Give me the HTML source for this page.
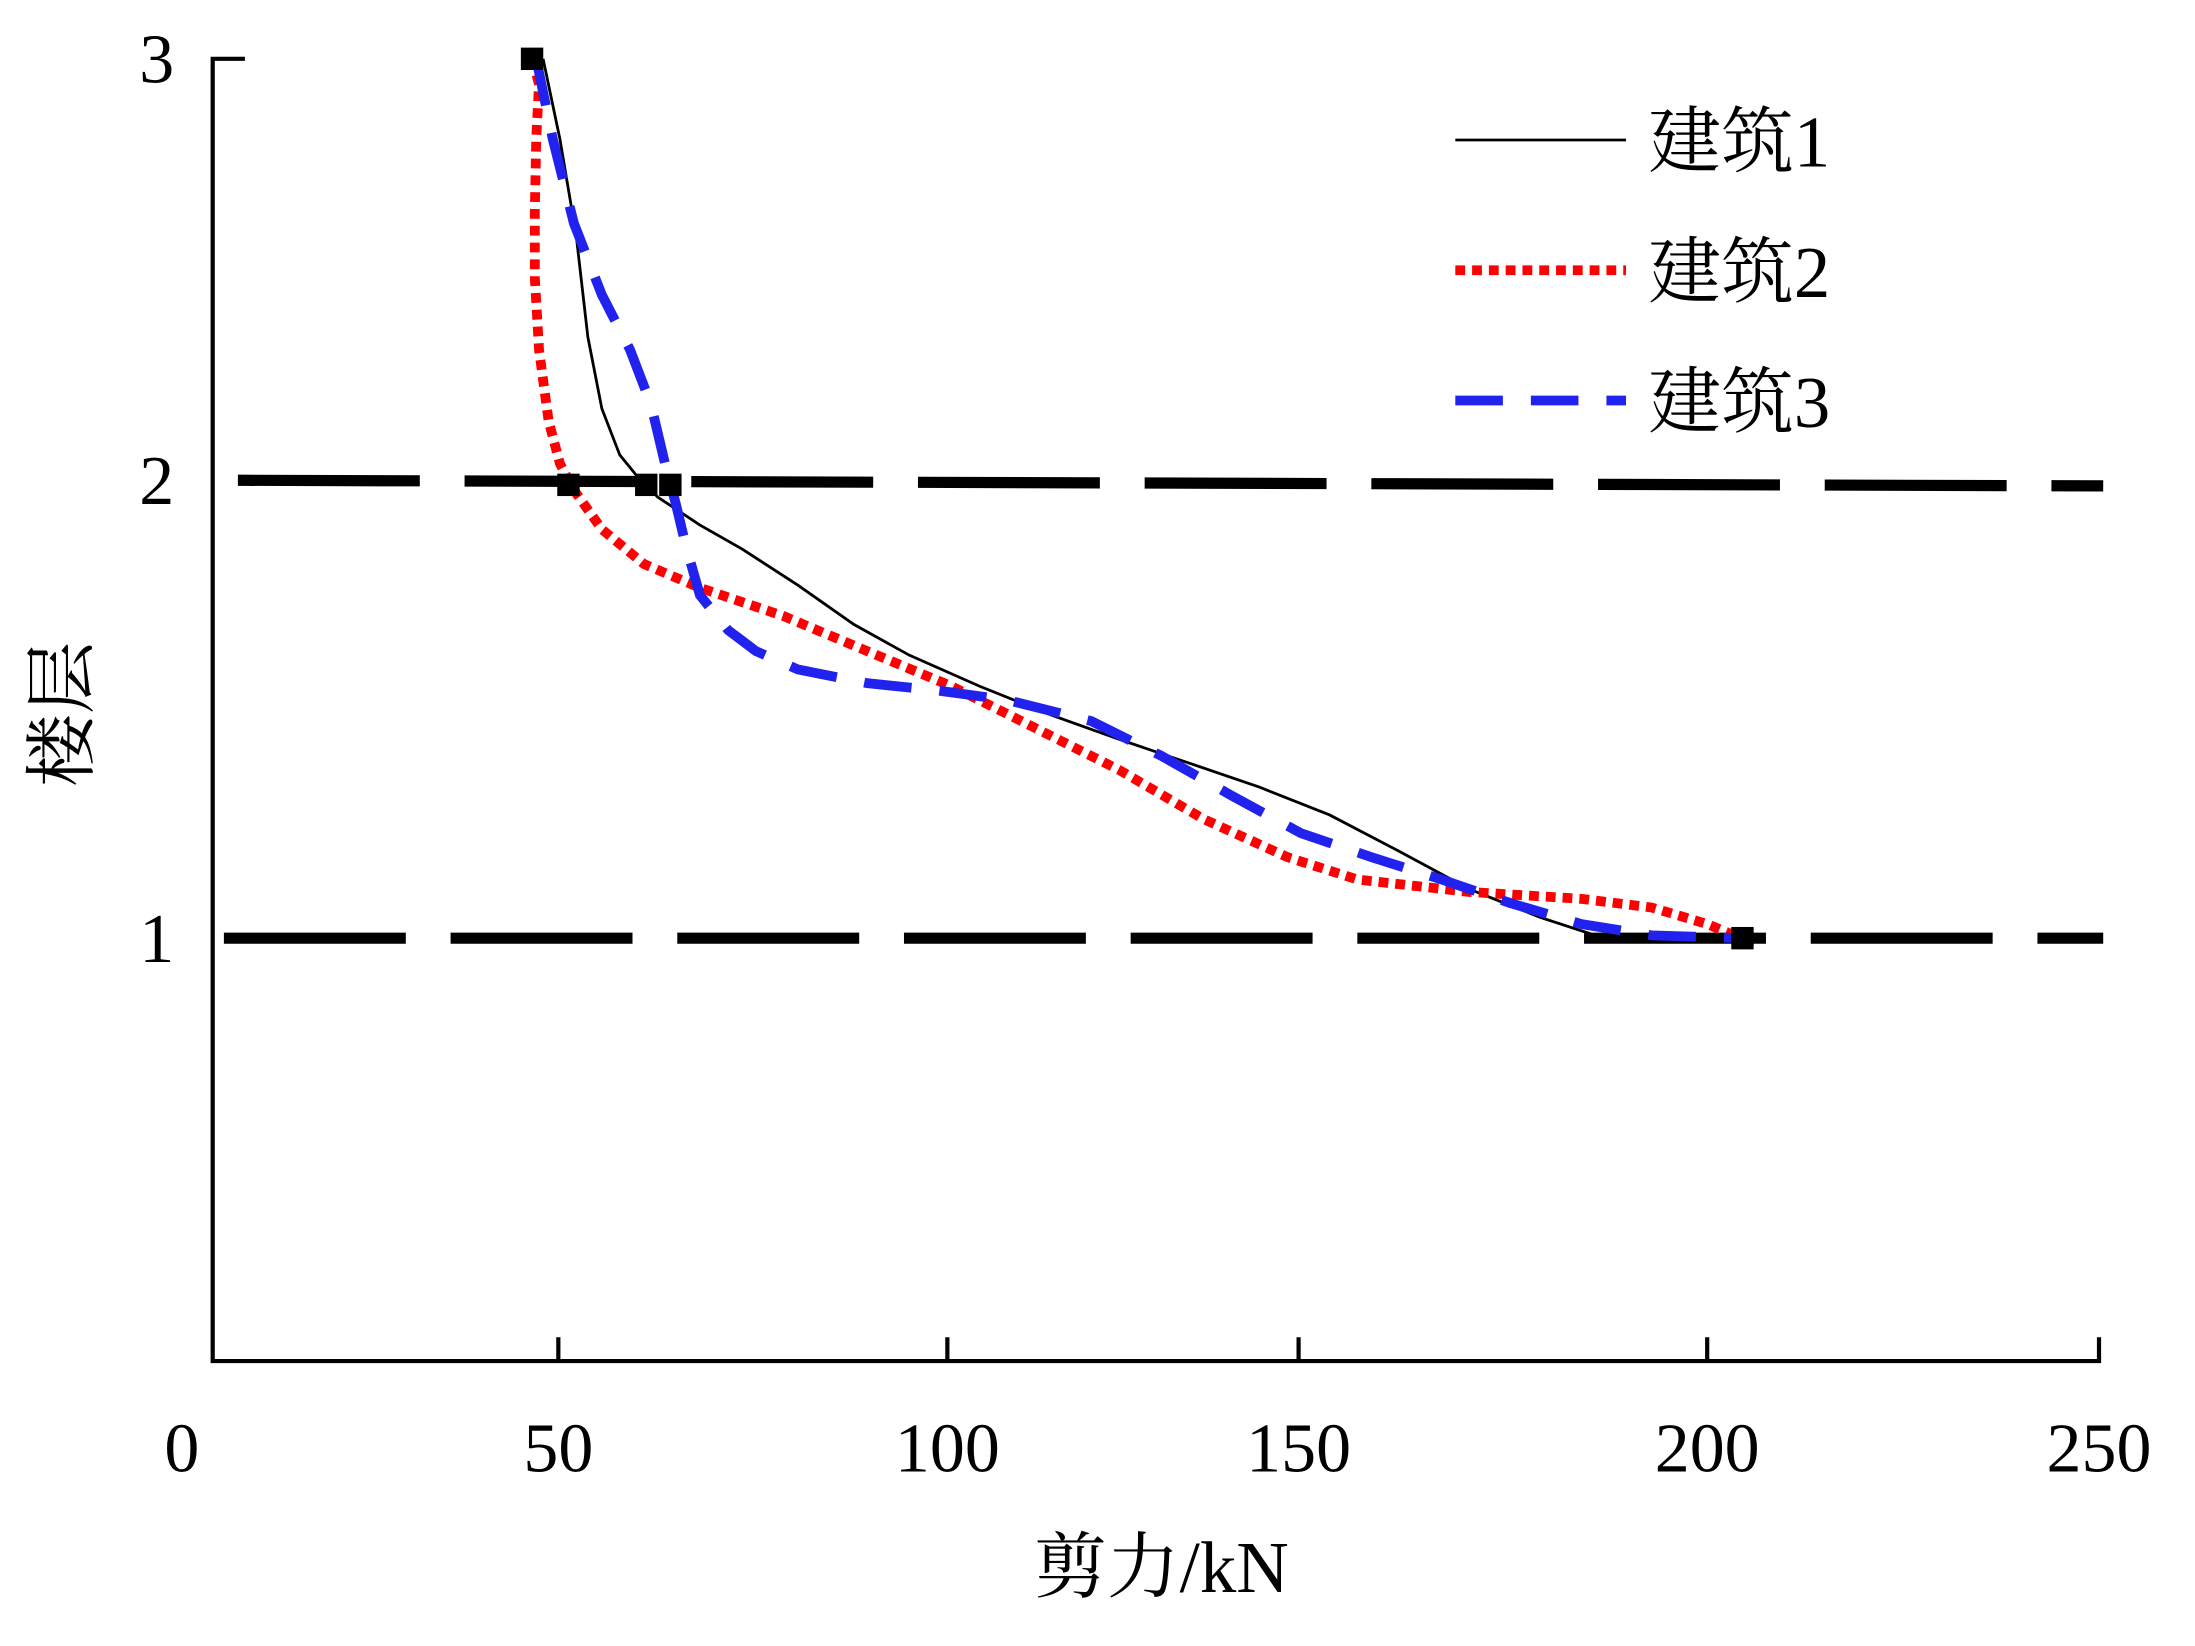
<!DOCTYPE html>
<html><head><meta charset="utf-8"><style>
html,body{margin:0;padding:0;background:#fff;}
svg{display:block;}
text{font-family:"Liberation Serif","Noto Serif CJK SC","Noto Sans CJK SC",serif;fill:#000;}
</style></head><body>
<svg id="chart" width="2195" height="1646" viewBox="0 0 1568.6 1175.5" preserveAspectRatio="none" xmlns="http://www.w3.org/2000/svg">
<g id="g"></g>
</svg>
<script>
const xTicks=[0,50,100,150,200,250];
const yTicks=[1,2,3];
const s1x=[47.8,50.2,52.3,53.8,55.6,57.9,60.1,62.8,68.2,73.6,80.8,88.0,95.1,104.6,114.5,124.5,134.5,144.4,153.8,162.3,170.9,179.5,186.3,204.3];
const s1y=[3,2.81,2.58,2.34,2.17,2.06,2.01,1.963,1.902,1.850,1.771,1.685,1.618,1.550,1.489,1.434,1.382,1.330,1.269,1.190,1.107,1.046,1.006,1];
const s2x=[46.2,47.2,46.8,46.6,46.6,47.2,48.6,50.2,52.0,55.6,61.0,68.2,79.0,89.7,100.6,112.5,124.5,136.5,148.4,157.2,170.9,184.6,193.2,200,204.3];
const s2y=[3,2.94,2.81,2.64,2.48,2.31,2.14,2.04,1.979,1.893,1.817,1.765,1.703,1.627,1.550,1.459,1.367,1.260,1.177,1.128,1.101,1.086,1.067,1.031,1];
const s3x=[46.8,49.2,52.0,55.6,59.2,61.9,63.7,65.1,66.4,68.2,71.8,75.4,80.8,89.7,98.7,108.6,120.5,130.5,140.4,150.3,158.9,167.5,176.0,184.6,193.2,204.3];
const s3y=[3,2.81,2.61,2.44,2.31,2.18,2.04,1.948,1.856,1.749,1.673,1.627,1.587,1.557,1.541,1.520,1.474,1.398,1.312,1.229,1.177,1.128,1.076,1.031,1.006,1];
const mx=[46.2,51.3,61.3,64.4,204.5];
const my=[3,1.99,1.99,1.99,1];
const levels=[2,1];
const xPx=[152,399,677,928,1220,1500];
const yVal=[0,1,2,3], yPx=[972,670,343,42];
function pw(v,vals,px){let i=0;while(i<vals.length-2&&v>vals[i+1])i++;return px[i]+(v-vals[i])*(px[i+1]-px[i])/(vals[i+1]-vals[i]);}
function X(v){return pw(v,xTicks,xPx);}
function Y(v){return pw(v,yVal,yPx);}
const NS='http://www.w3.org/2000/svg', g=document.getElementById('g');
function el(t,a,txt){const e=document.createElementNS(NS,t);for(const k in a)e.setAttribute(k,a[k]);if(txt!==undefined)e.textContent=txt;g.appendChild(e);return e;}
let e;
levels.forEach((lv,i)=>{
 e=el('line',{x1:i==0?170:160,x2:1503,y1:Y(lv),y2:Y(lv)+(i==0?4:0),stroke:'#000','stroke-width':8,'stroke-dasharray':'130 32'});
 
 
});
e=el('path',{d:'M175 42 H152 V972 H1500 V955',fill:'none',stroke:'#000','stroke-width':3});


xTicks.forEach(t=>{
 if(t>0&&t<250){e=el('line',{x1:X(t),x2:X(t),y1:972,y2:955,stroke:'#000','stroke-width':3});
 
 }
 e=el('text',{x:X(t)-(t==0?22:0),y:1051,'font-size':50,'text-anchor':'middle'},String(t));
 
 
});
yTicks.forEach(t=>{
 e=el('text',{x:112,y:Y(t)+17,'font-size':50,'text-anchor':'middle'},String(t));
 
 
});
e=el('text',{x:830,y:1137,'font-size':52,'text-anchor':'middle'},'剪力/kN');


e=el('text',{x:0,y:0,'font-size':52,'text-anchor':'middle',transform:'translate(62,510) rotate(-90)'},'楼层');


function line(xs,ys,attrs,name){
 const d=xs.map((v,i)=>(i?'L':'M')+X(v).toFixed(1)+' '+Y(ys[i]).toFixed(1)).join(' ');
 const p=el('path',Object.assign({d:d,fill:'none'},attrs));
 
 
}
line(s1x,s1y,{stroke:'#000','stroke-width':2},'series-building-1');
line(s2x,s2y,{stroke:'#f00','stroke-width':7,'stroke-dasharray':'7 5'},'series-building-2');
line(s3x,s3y,{stroke:'#2222ee','stroke-width':7,'stroke-dasharray':'34 20'},'series-building-3');
mx.forEach((v,i)=>{
 e=el('rect',{x:X(v)-8,y:Y(my[i])-8,width:16,height:16,fill:'#000'});
 
 
});
const leg=[['建筑1',{stroke:'#000','stroke-width':2}],['建筑2',{stroke:'#f00','stroke-width':7,'stroke-dasharray':'7 5'}],['建筑3',{stroke:'#2222ee','stroke-width':7,'stroke-dasharray':'34 20'}]];
leg.forEach((l,i)=>{
 const y=100+i*93;
 e=el('line',Object.assign({x1:1040,x2:1162,y1:y,y2:y},l[1]));
 
 
 e=el('text',{x:1178,y:y+19,'font-size':52},l[0]);
 
 
});
</script>
</body></html>
